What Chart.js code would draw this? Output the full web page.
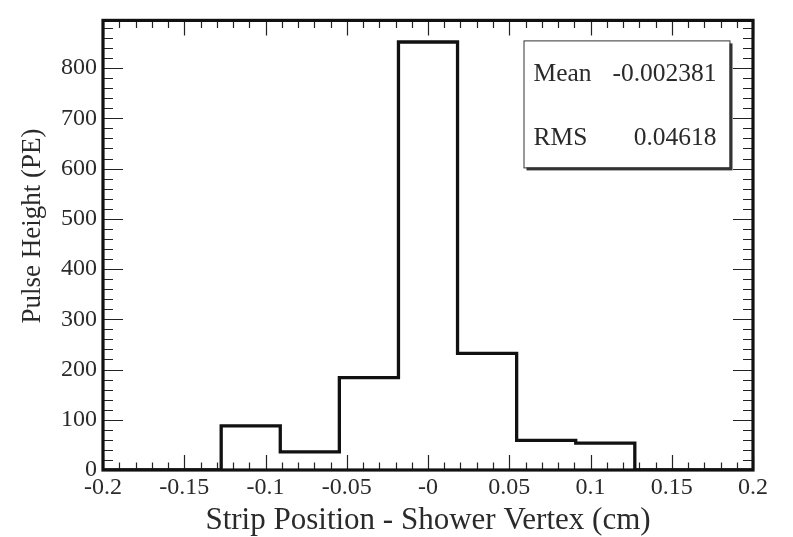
<!DOCTYPE html>
<html>
<head>
<meta charset="utf-8">
<script src="https://cdn.jsdelivr.net/npm/chart.js@4.4.1/dist/chart.umd.min.js"></script>
<style>
  html, body { margin: 0; padding: 0; background: #ffffff; }
  #wrap { width: 793px; height: 537px; position: relative; }
</style>
</head>
<body>
<div id="wrap"><canvas id="hist" width="793" height="537"></canvas></div>
<script>
// Histogram bin edges (cm) and pulse height per bin (PE)
const binEdges = [-0.2, -0.16364, -0.12727, -0.09091, -0.05455, -0.01818,
                  0.01818, 0.05455, 0.09091, 0.12727, 0.16364, 0.2];
const binCounts = [0, 0, 88, 36, 184, 852, 232, 59, 53.5, 0, 0];

// Axis ticks and labels
const xTickValues = [-0.2, -0.15, -0.1, -0.05, 0, 0.05, 0.1, 0.15, 0.2];
const xTickLabels = ['-0.2', '-0.15', '-0.1', '-0.05', '-0', '0.05', '0.1', '0.15', '0.2'];
const yTickValues = [0, 100, 200, 300, 400, 500, 600, 700, 800];
const yTickLabels = ['0', '100', '200', '300', '400', '500', '600', '700', '800'];
const yMax = 895;

// Statistics box entries
const statNames = ['Mean', 'RMS'];
const statValues = ['-0.002381', '0.04618'];

const xTitle = 'Strip Position - Shower Vertex (cm)';
const yTitle = 'Pulse Height (PE)';

const SERIF = '"Liberation Serif", "DejaVu Serif", "Times New Roman", serif';
const INK = '#2a2a2a';

// Step outline: each bin's level is held from its low edge to the next edge,
// closing back to zero at the upper end of the range
const outline = binCounts.map((c, i) => ({ x: binEdges[i], y: c }));
outline.push({ x: binEdges[binEdges.length - 1], y: 0 });

// Frame, inward ticks (major + minor, all four sides), titles and stats box
const framePlugin = {
  id: 'frameAndDecor',
  afterDatasetsDraw(chart) {
    const { ctx, chartArea: a, scales } = chart;
    const xs = scales.x, ys = scales.y;
    ctx.save();

    // ticks
    ctx.strokeStyle = '#222';
    ctx.lineWidth = 1.2;
    ctx.beginPath();
    for (let k = -20; k <= 20; k++) {
      const v = k / 100;
      const px = Math.round(xs.getPixelForValue(v)) + 0.5;
      const len = (k % 5 === 0) ? 15 : 7.5;
      ctx.moveTo(px, a.bottom); ctx.lineTo(px, a.bottom - len);
      ctx.moveTo(px, a.top); ctx.lineTo(px, a.top + len);
    }
    for (let v = 0; v <= yMax; v += 20) {
      const py = Math.round(ys.getPixelForValue(v)) + 0.5;
      const len = (v % 100 === 0) ? 20 : 10;
      ctx.moveTo(a.left, py); ctx.lineTo(a.left + len, py);
      ctx.moveTo(a.right, py); ctx.lineTo(a.right - len, py);
    }
    ctx.stroke();

    // frame
    ctx.strokeStyle = '#111';
    ctx.lineWidth = 3.2;
    ctx.strokeRect(a.left, a.top, a.right - a.left, a.bottom - a.top);

    // stats box with shadow
    const bx = a.right - 229.5, by = a.top + 20, bw = 206, bh = 127;
    ctx.fillStyle = '#333';
    ctx.fillRect(bx + 3, by + 3, bw, bh);
    ctx.fillStyle = '#ffffff';
    ctx.fillRect(bx, by, bw, bh);
    ctx.strokeStyle = '#333';
    ctx.lineWidth = 1;
    ctx.strokeRect(bx + 0.5, by + 0.5, bw, bh);

    ctx.fillStyle = INK;
    ctx.font = '25.5px ' + SERIF;
    ctx.textBaseline = 'alphabetic';
    const rows = [by + 41, by + 105];
    statNames.forEach((n, i) => {
      ctx.textAlign = 'left';
      ctx.fillText(n, bx + 10, rows[i]);
      ctx.textAlign = 'right';
      ctx.fillText(statValues[i], bx + 193, rows[i]);
    });

    // axis titles
    ctx.fillStyle = INK;
    ctx.font = '31px ' + SERIF;
    ctx.textAlign = 'center';
    ctx.fillText(xTitle, (a.left + a.right) / 2, 529);

    ctx.save();
    ctx.translate(40, 226);
    ctx.rotate(-Math.PI / 2);
    ctx.font = '27px ' + SERIF;
    ctx.textAlign = 'center';
    ctx.fillText(yTitle, 0, 0);
    ctx.restore();

    ctx.restore();
  }
};

new Chart(document.getElementById('hist'), {
  type: 'line',
  data: {
    datasets: [{
      data: outline,
      stepped: 'before',
      borderColor: '#111',
      borderWidth: 3.3,
      pointRadius: 0,
      fill: false,
      tension: 0
    }]
  },
  options: {
    responsive: false,
    animation: false,
    devicePixelRatio: 1,
    layout: { padding: { left: 0, right: 40, top: 13, bottom: 0 } },
    plugins: { legend: { display: false }, tooltip: { enabled: false } },
    scales: {
      x: {
        type: 'linear',
        min: -0.2,
        max: 0.2,
        grid: { display: false, drawTicks: false },
        border: { display: false },
        afterBuildTicks: s => { s.ticks = xTickValues.map(v => ({ value: v })); },
        afterFit: s => { s.height = 67; },
        ticks: {
          padding: 3,
          maxRotation: 0,
          autoSkip: false,
          color: INK,
          font: { family: SERIF, size: 24 },
          callback: (v, i) => xTickLabels[i]
        }
      },
      y: {
        type: 'linear',
        min: 0,
        max: yMax,
        grid: { display: false, drawTicks: false },
        border: { display: false },
        afterBuildTicks: s => { s.ticks = yTickValues.map(v => ({ value: v })); },
        afterFit: s => { s.width = 103; },
        ticks: {
          padding: 6,
          autoSkip: false,
          color: INK,
          font: { family: SERIF, size: 24 },
          callback: (v, i) => yTickLabels[i]
        }
      }
    }
  },
  plugins: [framePlugin]
});
</script>
</body>
</html>
